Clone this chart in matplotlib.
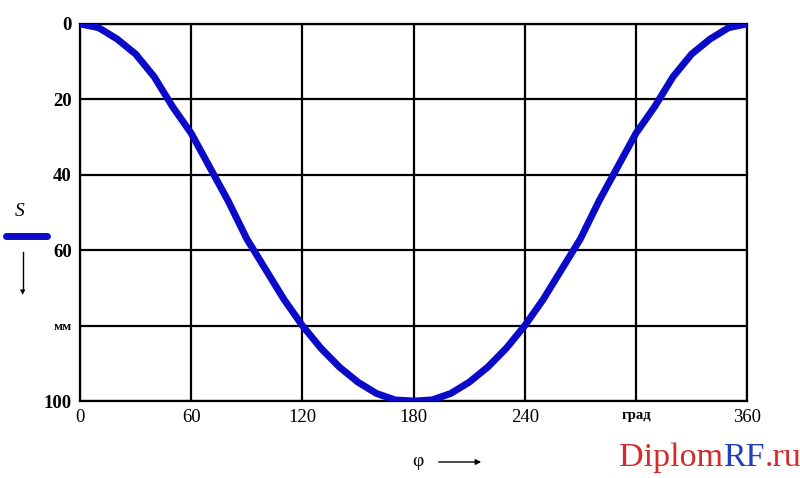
import numpy as np
import matplotlib.pyplot as plt

# Displacement S (mm) versus cam angle phi (deg)
phi = [0, 10, 20, 30, 40, 50, 60, 70, 80, 90, 100, 110, 120, 130, 140, 150, 160, 170, 180,
       190, 200, 210, 220, 230, 240, 250, 260, 270, 280, 290, 300, 310, 320, 330, 340, 350, 360]
s = [0, 1, 4, 8, 14, 22, 29, 38, 47, 57, 65, 73, 80, 86, 91, 95, 98, 99.7, 100,
     99.7, 98, 95, 91, 86, 80, 73, 65, 57, 47, 38, 29, 22, 14, 8, 4, 1, 0]

x_ticks = [0, 60, 120, 180, 240, 300, 360]
x_labels = ["0", "60", "120", "180", "240", "град", "360"]
y_ticks = [0, 20, 40, 60, 80, 100]
y_labels = ["0", "20", "40", "60", "мм", "100"]

fig = plt.figure(figsize=(8, 4.78), dpi=100)
ax = fig.add_axes([0.1, 0.161, 0.834, 0.789])

ax.plot(phi, s, color="#0a0ac8", linewidth=5, solid_capstyle="round",
        solid_joinstyle="round", zorder=3)

ax.set_xlim(0, 360)
ax.set_ylim(100, 0)
ax.set_xticks(x_ticks)
ax.set_yticks(y_ticks)
ax.set_xticklabels(x_labels, family="Liberation Serif", fontsize=13.5)
ax.set_yticklabels(y_labels, family="Liberation Serif", fontsize=13.5, fontweight="bold")
for lab in ax.get_xticklabels():
    if lab.get_text() == "град":
        lab.set_fontsize(10.5)
        lab.set_fontweight("bold")
for lab in ax.get_yticklabels():
    if lab.get_text() == "мм":
        lab.set_fontsize(9.5)
ax.tick_params(length=0, pad=6)
ax.grid(True, color="black", linewidth=1.6)
for sp in ax.spines.values():
    sp.set_linewidth(1.6)

# legend on the left: S, blue line, arrow down
fig.text(20 / 800, 1 - 212 / 478, "S", family="Liberation Serif", style="italic",
         fontsize=14, ha="center", va="center")
fig.add_artist(plt.Line2D([6 / 800, 47 / 800], [1 - 236 / 478, 1 - 236 / 478],
                          color="#0a0ac8", linewidth=5, solid_capstyle="round"))
fig.add_artist(plt.Line2D([23 / 800, 23 / 800], [1 - 252 / 478, 1 - 290 / 478],
                          color="black", linewidth=1))
fig.text(23 / 800, 1 - 292 / 478, "▼", fontsize=5, ha="center", va="center")

# x axis label: phi with arrow
fig.text(418 / 800, 1 - 462 / 478, "φ", family="Liberation Serif", fontsize=14,
         ha="center", va="center")
ax.annotate("", xy=(484 / 800, 1 - 462 / 478), xytext=(436 / 800, 1 - 462 / 478),
            xycoords="figure fraction",
            arrowprops=dict(arrowstyle="-|>", color="black", lw=1, mutation_scale=8))

# watermark
wm = fig.text(619 / 800, 1 - 458 / 478, "Diplom", family="Liberation Serif",
              fontsize=24.5, color="#d42a2a", ha="left", va="center")
fig.canvas.draw()
x1 = wm.get_window_extent().x1 / fig.bbox.width
wm2 = fig.text(x1, 1 - 458 / 478, "RF", family="Liberation Serif",
               fontsize=24.5, color="#1f3fbf", ha="left", va="center")
fig.canvas.draw()
x2 = wm2.get_window_extent().x1 / fig.bbox.width
fig.text(x2, 1 - 458 / 478, ".ru", family="Liberation Serif",
         fontsize=24.5, color="#d42a2a", ha="left", va="center")

fig.savefig("out.png", dpi=100)
